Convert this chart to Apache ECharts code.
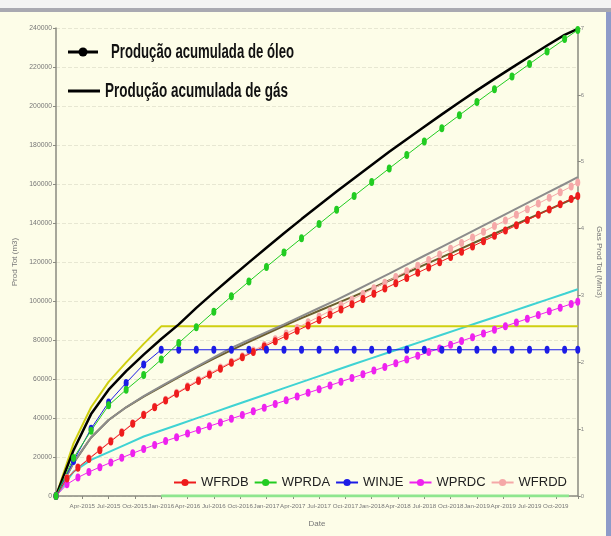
<!DOCTYPE html>
<html>
<head>
<meta charset="utf-8">
<script src="https://cdn.jsdelivr.net/npm/echarts/dist/echarts.min.js"></script>
<style>
  html, body { margin: 0; padding: 0; background: #ffffff; }
  #wrap { position: relative; width: 611px; height: 536px; background: #fdfde8; overflow: hidden; }
  #topband { position: absolute; left: 0; top: 0; width: 611px; height: 8px; background: #f3f3f3; }
  #topline { position: absolute; left: 0; top: 8px; width: 611px; height: 4px; background: #a9a9b1; }
  #rightbar { position: absolute; right: 0; top: 12px; width: 5px; height: 524px; background: #8e9bc9; }
  #chart { position: absolute; left: 0; top: 0; width: 611px; height: 536px; }
</style>
</head>
<body>
<div id="wrap">
  <div id="topband"></div>
  <div id="topline"></div>
  <div id="rightbar"></div>
  <div id="chart"></div>
</div>
<script>
// Quarter tick labels along the date axis (months counted from Jan-2015)
const quarterLabels = [
  'Jan-2015','Apr-2015','Jul-2015','Oct-2015',
  'Jan-2016','Apr-2016','Jul-2016','Oct-2016',
  'Jan-2017','Apr-2017','Jul-2017','Oct-2017',
  'Jan-2018','Apr-2018','Jul-2018','Oct-2018',
  'Jan-2019','Apr-2019','Jul-2019','Oct-2019'
];

// Report times (months since Jan-2015)
const monthsCoarse = [0,2,4,6,8,10,12,14,16,18,20,22,24,26,28,30,32,34,36,38,40,42,44,46,48,50,52,54,56,58,59.5];
const monthsFine = [0,1.25,2.5,3.75,5,6.25,7.5,8.75,10,11.25,12.5,13.75,15,16.25,17.5,18.75,20,21.25,22.5,23.75,25,26.25,27.5,28.75,30,31.25,32.5,33.75,35,36.25,37.5,38.75,40,41.25,42.5,43.75,45,46.25,47.5,48.75,50,51.25,52.5,53.75,55,56.25,57.5,58.75,59.5];
const monthsWater = [12, 58.5];

// Cumulative oil production per well (m3)
const oilWFRDB = [0,9000,14500,19000,23500,28000,32500,37000,41500,45500,49000,52500,55800,59000,62200,65300,68300,71100,73900,76700,79400,82100,84800,87500,90200,92900,95600,98300,101000,103700,106400,109100,111800,114500,117200,119900,122600,125300,128000,130700,133400,136100,138800,141500,144200,146900,149600,152300,153900];
const oilWFRDD = [0,9200,14800,19300,23800,28300,32800,37300,41800,45800,49400,52900,56300,59600,62800,65900,68800,71700,74600,77500,80400,83300,86200,89100,92000,94900,97800,100700,103600,106500,109400,112300,115200,118100,121000,123900,126800,129700,132600,135500,138400,141300,144200,147100,150000,152900,155800,158700,160800];
const oilWPRDC = [0,6000,9500,12300,14800,17200,19600,21900,24100,26200,28200,30100,32000,33900,35800,37700,39600,41500,43400,45300,47200,49100,51000,52900,54800,56700,58600,60500,62400,64300,66200,68100,70000,71900,73800,75700,77600,79500,81400,83300,85200,87100,89000,90900,92800,94700,96600,98500,99600];
const oilWPRDA = [0,19500,33500,46500,54500,62000,70000,78500,86500,94500,102400,110000,117500,124900,132200,139500,146800,153900,161000,168000,174900,181800,188600,195300,202000,208600,215100,221600,228000,234300,239000];
const oilWINJE = [0,18000,34500,48000,58000,67500,75000,75000,75000,75000,75000,75000,75000,75000,75000,75000,75000,75000,75000,75000,75000,75000,75000,75000,75000,75000,75000,75000,75000,75000,75000];

// Cumulative gas production per well
const gasWPRDA = [0,23500,42000,54500,64000,72500,80500,88000,96500,104400,112200,119800,127300,134700,142000,149100,156100,163000,169800,176500,183000,189400,195700,201900,208000,213900,219700,225400,231000,236500,239500];
const gasWFRDB = [0,17000,30000,39000,45500,51000,56000,61000,65800,70400,74800,79000,83200,87200,91200,95000,98800,102500,106500,110500,114500,118500,122500,126500,130500,134500,138500,142500,146500,150500,153500];
const gasWFRDD = [0,17000,30000,39000,45500,51200,56300,61300,66200,71100,76000,80000,84000,88000,92200,96400,100600,105000,109500,114000,118600,123200,127800,132400,137000,141600,146200,150800,155400,160000,163500];
const gasWPRDC = [0,12500,18500,22500,26500,30500,33600,36700,39800,42900,46000,49100,52200,55300,58400,61500,64600,67700,70700,73700,76700,79700,82700,85700,88700,91700,94700,97700,100700,103700,106000];
const gasWINJE = [0,27000,45500,58500,68500,78000,87000,87000,87000,87000,87000,87000,87000,87000,87000,87000,87000,87000,87000,87000,87000,87000,87000,87000,87000,87000,87000,87000,87000,87000,87000];
const waterInj = [0, 0];

const legendNames = ['WFRDB', 'WPRDA', 'WINJE', 'WPRDC', 'WFRDD'];
const legendTitles = ['Produção acumulada de óleo', 'Produção acumulada de gás'];

function pairs(xs, ys) { return xs.map((x, i) => [x, ys[i]]); }

const narrow = "'Liberation Sans Narrow', 'Liberation Sans', Arial, sans-serif";
const plain = "'Liberation Sans', Arial, sans-serif";

const measureCtx = document.createElement('canvas').getContext('2d');
function textWidth(text, font) { measureCtx.font = font; return measureCtx.measureText(text).width; }

// Tick label size depends on whether a condensed face is available
const hasNarrow = textWidth('Apr-2015', "10px 'Liberation Sans Narrow'") < 0.9 * textWidth('Apr-2015', '10px ' + plain);
const tickSize = hasNarrow ? 7.5 : 6.2;

function gasLine(name, xs, ys, color, width) {
  return {
    name: name, type: 'line', data: pairs(xs, ys), showSymbol: false, symbol: 'none',
    lineStyle: { color: color, width: width }, itemStyle: { color: color },
    z: 2, silent: true
  };
}
function oilLine(name, xs, ys, color) {
  return {
    name: name, type: 'line', data: pairs(xs, ys), symbol: 'circle', symbolSize: [5, 8],
    lineStyle: { color: color, width: 1 }, itemStyle: { color: color },
    z: 3, silent: true
  };
}

// Bold condensed captions fitted to their width
const titleFont = 'bold 20px ' + narrow;
const s1 = 183 / textWidth(legendTitles[0], titleFont);
const s2 = 183 / textWidth(legendTitles[1], titleFont);

const chart = echarts.init(document.getElementById('chart'), null, { renderer: 'canvas' });
chart.setOption({
  animation: false,
  backgroundColor: 'transparent',
  grid: { left: 56, right: 24, top: 28, bottom: 40, containLabel: false },
  xAxis: {
    type: 'value', min: 0, max: 59.5, interval: 3,
    name: 'Date', nameLocation: 'middle', nameGap: 24,
    nameTextStyle: { fontFamily: narrow, fontSize: 8, color: '#777' },
    axisLine: { show: true, lineStyle: { color: '#8a8a80', width: 1.5 } },
    axisTick: { show: true, length: 3, lineStyle: { color: '#8a8a80' } },
    axisLabel: {
      fontFamily: narrow, fontSize: tickSize, color: '#777', margin: 7,
      formatter: function (v) {
        const i = Math.round(v / 3);
        if (Math.abs(v - i * 3) > 1e-6 || i < 1 || i >= quarterLabels.length) return '';
        return quarterLabels[i];
      }
    },
    splitLine: { show: false }
  },
  yAxis: [
    {
      type: 'value', min: 0, max: 240000, interval: 20000, position: 'left',
      name: 'Prod Tot (m3)', nameLocation: 'middle', nameGap: 26, nameRotate: 90,
      nameTextStyle: { fontFamily: narrow, fontSize: 8, color: '#777' },
      axisLine: { show: true, lineStyle: { color: '#8a8a80', width: 1.5 } },
      axisTick: { show: true, length: 3, lineStyle: { color: '#8a8a80' } },
      axisLabel: { fontFamily: narrow, fontSize: tickSize + 0.6, color: '#777', margin: 4,
        formatter: function (v) { return String(v); } },
      splitLine: { show: true, lineStyle: { color: 'rgba(190,190,170,0.35)', type: 'dashed' } }
    },
    {
      type: 'value', min: 0, max: 7, interval: 1, position: 'right',
      name: 'Gas Prod Tot (Mm3)', nameLocation: 'middle', nameGap: 11, nameRotate: -90,
      nameTextStyle: { fontFamily: narrow, fontSize: 8, color: '#777' },
      axisLine: { show: true, lineStyle: { color: '#8a8a80', width: 1.5 } },
      axisTick: { show: true, length: 3, lineStyle: { color: '#8a8a80' } },
      axisLabel: { fontFamily: narrow, fontSize: 6, color: '#888', margin: 3 },
      splitLine: { show: false }
    }
  ],
  legend: {
    data: legendNames, left: 168, top: 471, width: 430, itemWidth: 22, itemHeight: 9, itemGap: 5,
    textStyle: { fontFamily: plain, fontSize: 13, color: '#222' },
    selectedMode: false
  },
  series: [
    { name: 'water', type: 'line', data: pairs(monthsWater, waterInj), symbol: 'none',
      lineStyle: { color: '#8ee68e', width: 3 }, z: 1, silent: true },
    gasLine('gas WPRDC', monthsCoarse, gasWPRDC, '#3fd3d3', 2),
    gasLine('gas WINJE', monthsCoarse, gasWINJE, '#cfcf10', 2),
    gasLine('gas WFRDB', monthsCoarse, gasWFRDB, '#6b5d2c', 2),
    gasLine('gas WFRDD', monthsCoarse, gasWFRDD, '#8c8c8c', 2),
    gasLine('gas WPRDA', monthsCoarse, gasWPRDA, '#000000', 2.5),
    oilLine('WPRDC', monthsFine, oilWPRDC, '#ee22ee'),
    oilLine('WFRDD', monthsFine, oilWFRDD, '#f5a8a8'),
    oilLine('WFRDB', monthsFine, oilWFRDB, '#ee1c1c'),
    oilLine('WINJE', monthsCoarse, oilWINJE, '#1c1ce6'),
    oilLine('WPRDA', monthsCoarse, oilWPRDA, '#22cc22')
  ],
  graphic: [
    { type: 'line', shape: { x1: 68, y1: 52, x2: 98, y2: 52 }, style: { stroke: '#000', lineWidth: 3 } },
    { type: 'circle', shape: { cx: 83, cy: 52, r: 4.5 }, style: { fill: '#000' } },
    { type: 'text', x: 111, y: 52, scaleX: s1,
      style: { text: legendTitles[0], font: titleFont, fill: '#111', textVerticalAlign: 'middle', verticalAlign: 'middle' } },
    { type: 'line', shape: { x1: 68, y1: 91, x2: 100, y2: 91 }, style: { stroke: '#000', lineWidth: 3 } },
    { type: 'text', x: 105, y: 91, scaleX: s2,
      style: { text: legendTitles[1], font: titleFont, fill: '#111', textVerticalAlign: 'middle', verticalAlign: 'middle' } }
  ]
});
</script>
</body>
</html>
